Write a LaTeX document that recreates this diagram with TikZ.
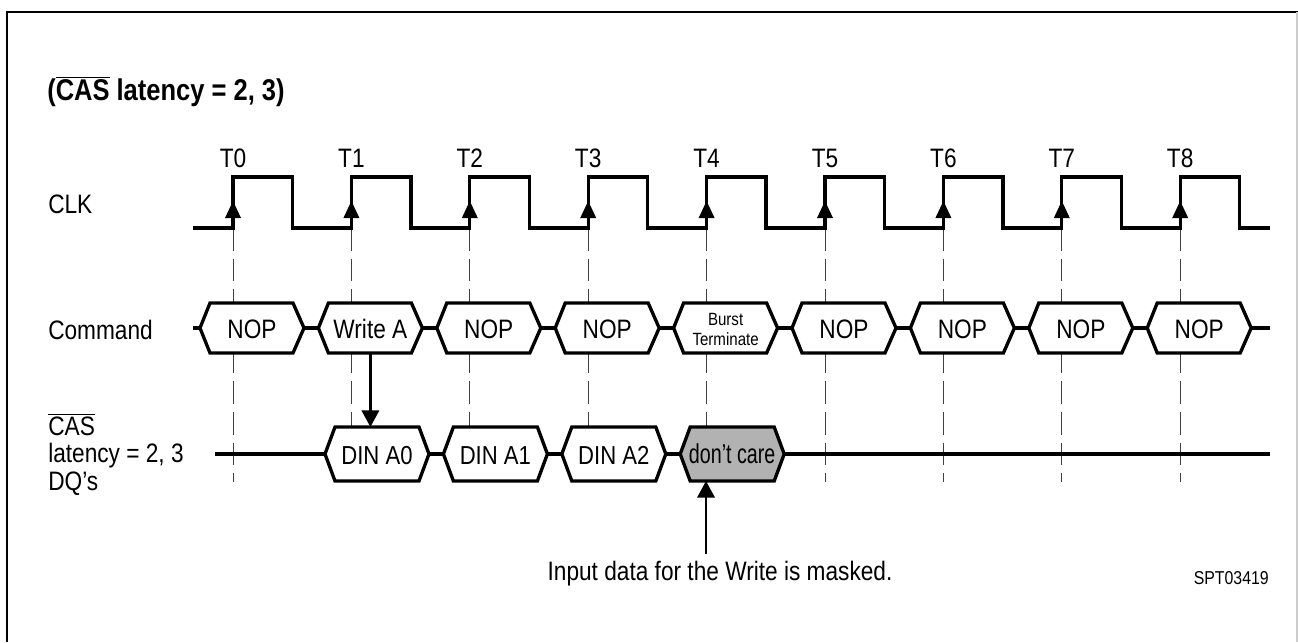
\documentclass[tikz,border=0pt]{standalone}
\usepackage{fontspec}
\setmainfont{Liberation Sans}[FakeStretch=0.85]
\newfontfamily\narrowfont{Liberation Sans}[FakeStretch=0.72]
\usetikzlibrary{arrows.meta}
\begin{document}
\begin{tikzpicture}[x=0.75pt,y=-0.75pt,
  sig/.style={line width=2.5pt, line join=miter},
  hexbox/.style={sig, fill=white},
  dcbox/.style={sig, fill=black!30},
  guide/.style={line width=0.6pt, black!75, dash pattern=on 17pt off 6pt},
  txt/.style={inner sep=0pt, anchor=base, font=\fontsize{20}{23}\selectfont},
  ltxt/.style={inner sep=0pt, anchor=base west, font=\fontsize{20}{23}\selectfont},
  arr/.style={line width=2pt, -{Triangle[length=12.5pt,width=13pt]}},
  edgetip/.style={fill=black}]
\useasboundingbox (0,0) rectangle (1298,642);
% frame
\draw[line width=2.2pt] (7,642) -- (7,12) -- (1298,12);
\draw[black!20, line width=1pt] (1297,12) -- (1297,642);
% title
\node[inner sep=0pt, anchor=base west, font=\bfseries\fontsize{22.5}{27}\selectfont] (title) at (47,100) {($\overline{\mbox{CAS}}$ latency = 2, 3)};
% left labels
\node[ltxt] (lclk) at (48,213) {CLK};
\node[ltxt] (lcmd) at (48,339) {Command};
\node[ltxt] (lcas) at (48,435) {$\overline{\mbox{CAS}}$};
\node[ltxt] (llat) at (48,462) {latency = 2, 3};
\node[ltxt] (ldq) at (48,490) {DQ’s};
% guides and T labels
\foreach \k in {0,...,8} {
  \pgfmathsetmacro\E{233+118.4*\k}
  \coordinate (e\k) at (\E,228);
  \draw[guide] (\E,228) -- (\E,482);
  \node[txt] (t\k) at (\E,167) {T\k};
}
% clock
\draw[sig] (193,228) \foreach \k in {0,...,8} {
   -- ({233+118.4*\k},228) -- ({233+118.4*\k},177) -- ({292.5+118.4*\k},177) -- ({292.5+118.4*\k},228) } -- (1270,228);
\foreach \k in {0,...,8} {
  \pgfmathsetmacro\E{233+118.4*\k}
  \fill[edgetip] (\E,201) -- (\E-8,218) -- (\E+8,218) -- cycle;
}
% command bus
\draw[sig] (193,328) -- (1270,328);
\foreach \k in {0,...,8} {
  \pgfmathsetmacro\L{200+118.4*\k}
  \draw[hexbox] (\L,328) -- (\L+10,303) -- (\L+93,303) -- (\L+104,328) -- (\L+93,353) -- (\L+10,353) -- cycle;
  \coordinate (cb\k) at (\L+52,353);
}
\node[txt] (c0) at (252,338) {NOP};
\node[txt] (c1) at (370.4,338) {Write A};
\node[txt] (c2) at (488.8,338) {NOP};
\node[txt] (c3) at (607.2,338) {NOP};
\node[inner sep=0pt, anchor=base, font=\fontsize{13.3}{16}\selectfont] (c4a) at (725.6,325) {Burst};
\node[inner sep=0pt, anchor=base, font=\fontsize{13.3}{16}\selectfont] (c4b) at (725.6,345) {Terminate};
\node[txt] (c5) at (844,338) {NOP};
\node[txt] (c6) at (962.4,338) {NOP};
\node[txt] (c7) at (1080.8,338) {NOP};
\node[txt] (c8) at (1199.2,338) {NOP};
% DQ bus
\draw[sig] (215,454) -- (1270,454);
\foreach \j in {0,...,2} {
  \pgfmathsetmacro\L{325+118.4*\j}
  \draw[hexbox] (\L,454) -- (\L+10,427) -- (\L+94,427) -- (\L+104,454) -- (\L+94,481) -- (\L+10,481) -- cycle;
}
\draw[dcbox] (680.2,454) -- (690.2,427) -- (774.2,427) -- (784.2,454) -- (774.2,481) -- (690.2,481) -- cycle;
\coordinate (dqtop) at (0,427);
\coordinate (dqbot) at (0,481);
\node[inner sep=0pt, anchor=base, font=\fontsize{19.5}{23}\selectfont] (d0) at (377,464) {DIN A0};
\node[inner sep=0pt, anchor=base, font=\fontsize{19.5}{23}\selectfont] (d1) at (495.4,464) {DIN A1};
\node[inner sep=0pt, anchor=base, font=\fontsize{19.5}{23}\selectfont] (d2) at (613.8,464) {DIN A2};
\node[inner sep=0pt, anchor=base, font=\narrowfont\fontsize{20.5}{23}\selectfont] (dc) at (732.2,463) {don’t care};
% arrows
\draw[arr] (cb1) -- (cb1 |- dqtop);
\node[txt] (note) at (720,580) {Input data for the Write is masked.};
\coordinate (notetop) at (706,554);
\draw[arr] (notetop) -- (notetop |- dqbot);
\node[inner sep=0pt, anchor=base east, font=\fontsize{14}{16}\selectfont] (spt) at (1269,584) {SPT03419};
\end{tikzpicture}
\end{document}
